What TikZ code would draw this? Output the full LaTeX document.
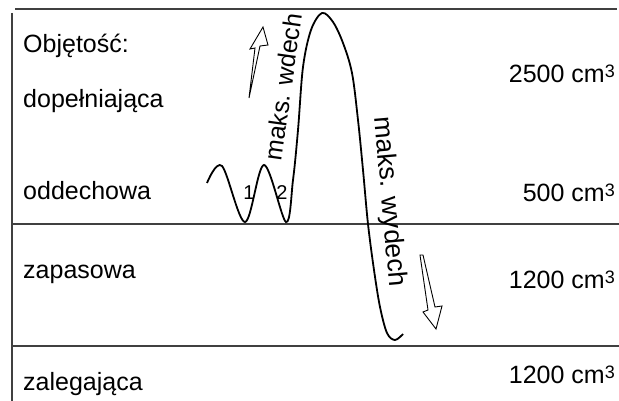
\documentclass[tikz,border=0pt]{standalone}
\usepackage{fontspec}
\setmainfont{Liberation Sans}
\begin{document}
\begin{tikzpicture}[x=1pt,y=-1pt,
  rule/.style={draw=black!75,line width=1.3pt},
  lbl/.style={inner sep=0pt,anchor=base west,font=\fontsize{25}{30}\selectfont},
  val/.style={inner sep=0pt,anchor=base east,font=\fontsize{25}{30}\selectfont},
  rot/.style={inner sep=0pt,font=\fontsize{25}{30}\selectfont},
  num/.style={inner sep=0pt,anchor=base,font=\fontsize{20}{22}\selectfont},
  curve/.style={draw=black,line width=1.8pt},
  hollow/.style={draw=black,line width=0.9pt,line join=miter}]
\useasboundingbox (0,0) rectangle (619,401);
\newcommand{\cubic}{ cm{\fontsize{18}{18}\selectfont\raisebox{5pt}{3}}}
% rules
\coordinate (tl) at (15,9);   \coordinate (tr) at (617,9);
\coordinate (lt) at (12,13);  \coordinate (lb) at (12,401);
\coordinate (ml) at (12,224); \coordinate (mr) at (619,224);
\coordinate (bl) at (12,346); \coordinate (br) at (619,346);
\draw[rule] (tl) -- (tr);
\draw[rule] (lt) -- (lb);
\draw[rule] (ml) -- (mr);
\draw[rule] (bl) -- (br);
% left labels
\node[lbl] (obj) at (23,53) {Objętość:};
\node[lbl] (dop) at (23,108) {dopełniająca};
\node[lbl] (odd) at (23,200) {oddechowa};
\node[lbl] (zap) at (23,278) {zapasowa};
\node[lbl] (zal) at (23,390) {zalegająca};
% right values
\node[val] (v1) at (615,83) {2500\cubic};
\node[val] (v2) at (615,201) {500\cubic};
\node[val] (v3) at (615,288) {1200\cubic};
\node[val] (v4) at (615,383) {1200\cubic};
% curve
\draw[curve] plot[smooth,tension=0.55] coordinates {
 (207,183) (222,166) (245,222) (264,165) (286,222) (293,180) (298,130)
 (303,67) (311,30) (322,13) (333,22) (343,43) (352,73) (358,120)
 (363,170) (368,224) (374,270) (380,307) (387,333) (395,340) (403,334)};
% numbers
\node[num] (n1) at (249,200) {1};
\node[num] (n2) at (282,200) {2};
% rotated labels
\node[rot,rotate=82] (wdech) at (283,87) {maks. wdech};
\node[rot,rotate=-85,font=\fontsize{26.5}{30}\selectfont] (wydech) at (389,202) {maks. wydech};
% hollow arrows
\draw[hollow] (249,98) -- (255,48) -- (250,49) -- (263,27) -- (268,45) -- (260,46) -- cycle;
\draw[hollow] (420,255) -- (428,310) -- (423,312) -- (436,329) -- (442,306) -- (435,307) -- (423,255) -- cycle;
\end{tikzpicture}
\end{document}
